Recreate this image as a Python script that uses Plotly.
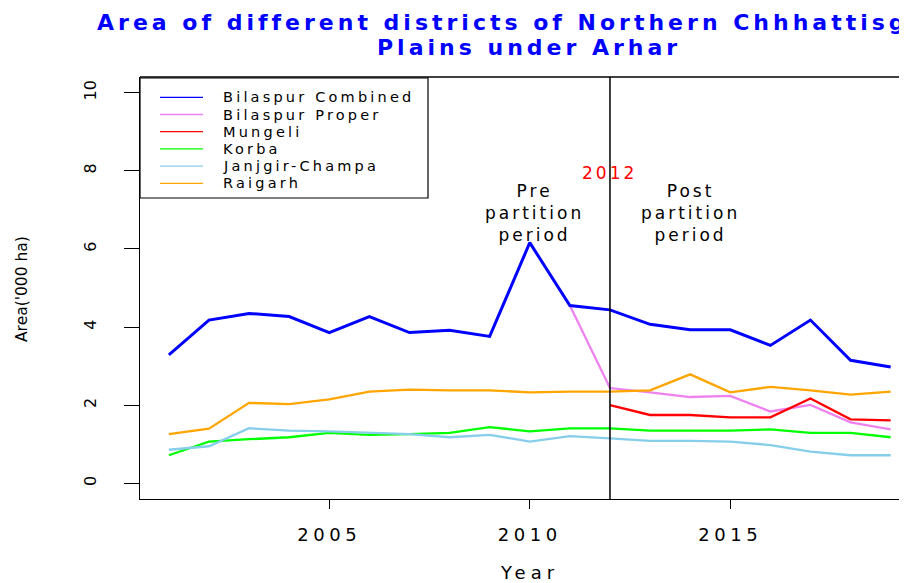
import plotly.graph_objects as go

# data (area in '000 ha)
years = list(range(2001, 2020))
bilaspur_combined = [3.29, 4.18, 4.35, 4.27, 3.86, 4.27, 3.86, 3.92, 3.76, 6.16,
                     4.55, 4.44, 4.07, 3.93, 3.93, 3.53, 4.18, 3.15, 2.98]
bilaspur_proper = [None] * 10 + [4.55, 2.44, 2.33, 2.21, 2.24, 1.84, 2.01, 1.56, 1.38]
mungeli = [None] * 11 + [2.00, 1.75, 1.75, 1.69, 1.69, 2.17, 1.64, 1.61]
korba = [0.72, 1.07, 1.13, 1.18, 1.29, 1.24, 1.26, 1.29, 1.44, 1.33,
         1.41, 1.41, 1.35, 1.35, 1.35, 1.38, 1.29, 1.29, 1.18]
janjgir_champa = [0.86, 0.95, 1.41, 1.35, 1.33, 1.29, 1.26, 1.18, 1.24, 1.07,
                  1.21, 1.15, 1.09, 1.09, 1.07, 0.98, 0.81, 0.72, 0.72]
raigarh = [1.26, 1.40, 2.06, 2.03, 2.15, 2.35, 2.40, 2.38, 2.38, 2.33,
           2.35, 2.35, 2.38, 2.79, 2.33, 2.47, 2.38, 2.27, 2.35]

names = ["Bilaspur Combined", "Bilaspur Proper", "Mungeli", "Korba",
         "Janjgir-Champa", "Raigarh"]
series = [bilaspur_combined, bilaspur_proper, mungeli, korba, janjgir_champa, raigarh]
colors = ["#0000FF", "#EE82EE", "#FF0000", "#00FF00", "#87CEEB", "#FFA500"]

x_ticks = [2005, 2010, 2015]
y_ticks = [0, 2, 4, 6, 8, 10]
partition_year = 2012

FONT = "DejaVu Sans"
OFF = 8  # the page body has an 8px margin, so the figure sits at (8, 8)
W, H = 907, 583 - OFF
# plot box in page pixels: left 140, top 77, bottom 499, right runs off the page
L, R, T, B = 140 - OFF, 0, 77 - OFF, H - (499 - OFF)


def px_x(p):
    # page pixel -> paper x
    return (p - OFF - L) / (W - L - R)


def px_y(p):
    # page pixel -> paper y
    return (H - B - (p - OFF)) / (H - T - B)


def spaced(text, ls):
    # the reference is stretched horizontally, fake it with letter spacing
    return f'<span style="letter-spacing:{ls}px">{text}</span>'


fig = go.Figure()

# draw order: others first, combined on top
order = [1, 2, 3, 4, 5, 0]
for i in order:
    fig.add_trace(go.Scatter(
        x=years, y=series[i], name=names[i], mode="lines",
        line=dict(color=colors[i], width=3 if i == 0 else 2.3),
        connectgaps=False, showlegend=False,
    ))

fig.update_layout(
    width=W, height=H,
    margin=dict(l=L, r=R, t=T, b=B),
    plot_bgcolor="white", paper_bgcolor="white",
    font=dict(family=FONT, color="black"),
)

# 40.1 px per year, box starts at 2000.28
fig.update_xaxes(
    range=[2000.28, 2000.28 + (W - L - R) / 40.1],
    tickvals=x_ticks, ticktext=[spaced(str(v), 4.5) for v in x_ticks],
    ticks="outside", ticklen=9, tickcolor="black", tickwidth=1,
    tickfont=dict(size=18), ticklabelstandoff=10,
    showline=True, linecolor="black", linewidth=1.3,
    showgrid=False, zeroline=False,
)
fig.update_yaxes(
    range=[-0.4, 10.4],
    tickvals=y_ticks, ticks="outside", ticklen=15, tickcolor="black", tickwidth=1,
    tickangle=-90, tickfont=dict(size=16), ticklabelstandoff=21,
    showline=True, linecolor="black", linewidth=1.3,
    showgrid=False, zeroline=False,
)

shapes = [
    # top border of the box
    dict(type="line", xref="paper", yref="paper", x0=0, x1=1, y0=1, y1=1,
         line=dict(color="black", width=1.3)),
    # partition year
    dict(type="line", xref="x", yref="paper", x0=partition_year, x1=partition_year,
         y0=0, y1=1, line=dict(color="black", width=1.5)),
    # legend box
    dict(type="rect", xref="paper", yref="paper",
         x0=px_x(140), x1=px_x(428), y0=px_y(198), y1=px_y(78),
         line=dict(color="black", width=1.2), fillcolor="white", layer="below"),
]

annotations = []
for k, (nm, col) in enumerate(zip(names, colors)):
    yy = px_y(97.3 + k * 17.2)
    shapes.append(dict(type="line", xref="paper", yref="paper",
                       x0=px_x(160), x1=px_x(203), y0=yy, y1=yy,
                       line=dict(color=col, width=1.3)))
    annotations.append(dict(xref="paper", yref="paper", x=px_x(222), y=yy,
                            xanchor="left", yanchor="middle", showarrow=False,
                            borderpad=0, text=spaced(nm, 3.2),
                            font=dict(size=14.5)))

# title, centred over the full (cropped) plot box
title_font = dict(size=22, color="#0000FF", weight="bold")
annotations += [
    dict(xref="paper", yref="paper", x=px_x(529), y=px_y(22),
         xanchor="center", yanchor="middle", showarrow=False,
         text=spaced("Area of different districts of Northern Chhhattisgarh", 4),
         font=title_font),
    dict(xref="paper", yref="paper", x=px_x(529), y=px_y(47),
         xanchor="center", yanchor="middle", showarrow=False,
         text=spaced("Plains under Arhar", 4), font=title_font),
    # axis titles
    dict(xref="paper", yref="paper", x=px_x(529), y=px_y(572),
         xanchor="center", yanchor="middle", showarrow=False,
         text=spaced("Year", 5), font=dict(size=18)),
    dict(xref="paper", yref="paper", x=px_x(22), y=px_y(289),
         xanchor="center", yanchor="middle", showarrow=False, textangle=-90,
         text="Area('000 ha)", font=dict(size=15.5)),
    # period labels
    dict(xref="x", yref="paper", x=partition_year, y=px_y(173),
         xanchor="center", yanchor="middle", showarrow=False,
         text=spaced(str(partition_year), 3), font=dict(size=17, color="#FF0000")),
    dict(xref="paper", yref="paper", x=px_x(534), y=px_y(213),
         xanchor="center", yanchor="middle", showarrow=False,
         text=spaced("Pre<br>partition<br>period", 3), font=dict(size=17)),
    dict(xref="paper", yref="paper", x=px_x(690), y=px_y(213),
         xanchor="center", yanchor="middle", showarrow=False,
         text=spaced("Post<br>partition<br>period", 3), font=dict(size=17)),
]

fig.update_layout(shapes=shapes, annotations=annotations)
fig.write_html("out.html")
